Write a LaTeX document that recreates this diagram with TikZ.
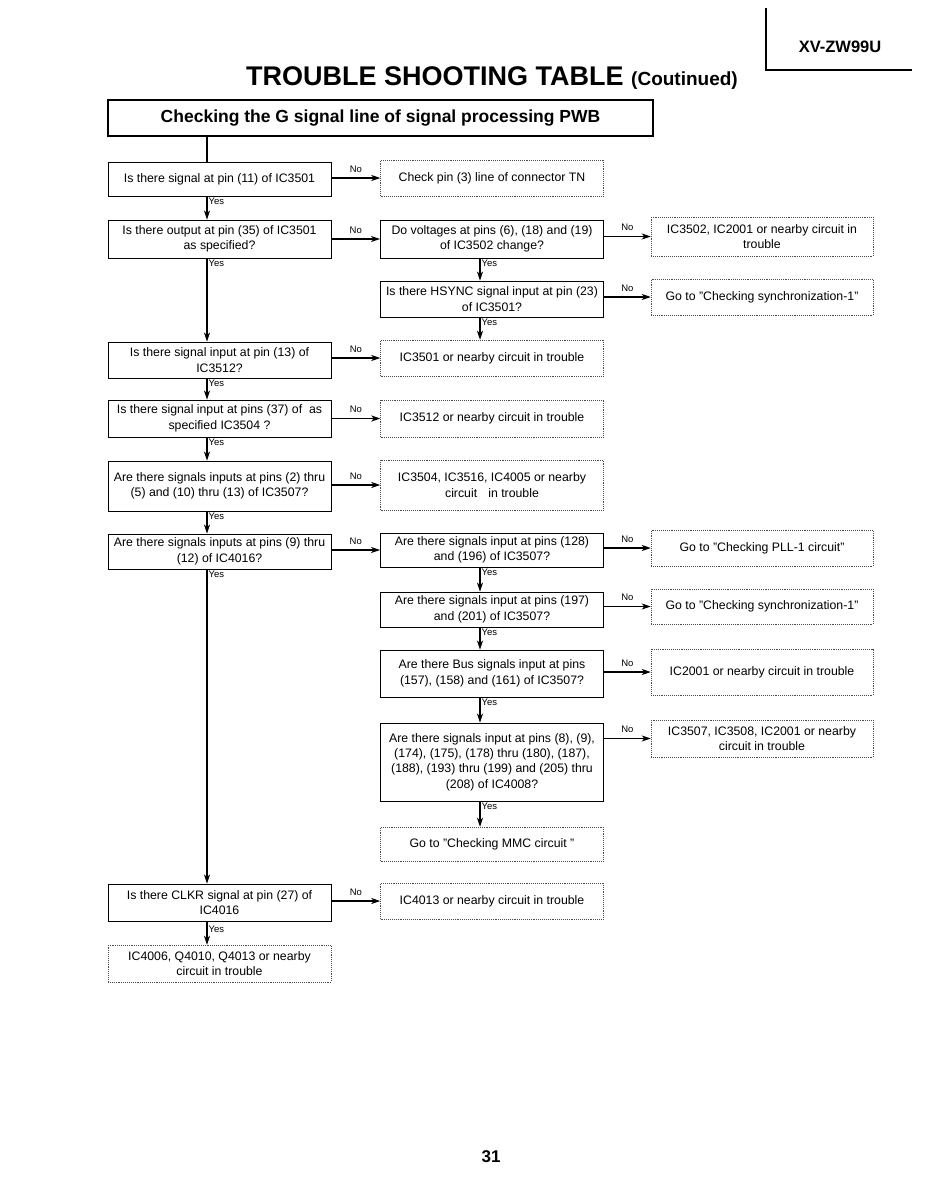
\documentclass[tikz,border=0pt]{standalone}
\usepackage{fontspec}
\setmainfont{Liberation Sans}
\usetikzlibrary{arrows.meta}
\begin{document}
\begin{tikzpicture}[x=1pt,y=-1pt,
  every node/.style={font=\fontsize{12.3}{15.4}\selectfont, align=center, inner sep=2pt},
  qbox/.style={draw, line width=0.9pt, minimum width=223pt},
  rbox/.style={draw=black!70, line width=0.5pt, dash pattern=on 0.7pt off 1.2pt, minimum width=223pt},
  arr/.style={line width=1.1pt, -{Stealth[length=9pt,width=6pt,inset=2.5pt]}},
  plain/.style={line width=1.1pt},
  lbl/.style={font=\fontsize{9.5}{11}\selectfont, inner sep=1pt}]
\fill[white] (0,0) rectangle (932,1202);
\path[use as bounding box] (0,0) rectangle (932,1202);
% header mark
\coordinate (hm1) at (766,8);
\coordinate (hm2) at (766,70);
\coordinate (hm3) at (912,70);
\draw[line width=1.4pt] (hm1) -- (hm2) -- (hm3);
\node[font=\bfseries\fontsize{16.5}{18}\selectfont] (model) at (840,47) {XV-ZW99U};
\node[font=\bfseries\fontsize{27}{30}\selectfont, inner sep=0pt] (title) at (492,78)
  {TROUBLE SHOOTING TABLE {\fontsize{19}{20}\selectfont (Coutinued)}};
\node[draw, line width=1.6pt, minimum width=545pt, minimum height=36pt,
  font=\bfseries\fontsize{17.5}{20}\selectfont] (head) at (380.5,118)
  {Checking the G signal line of signal processing PWB};
\coordinate (L) at (207,0);
\coordinate (M) at (480,0);
% left column
\node[qbox, minimum height=34pt] (q1) at (219.5,179) {Is there signal at pin (11) of IC3501};
\node[qbox, minimum height=38pt] (q2) at (219.5,239) {Is there output at pin (35) of IC3501\\as specified?};
\node[qbox, minimum height=36pt] (q3) at (219.5,360) {Is there signal input at pin (13) of\\IC3512?};
\node[qbox, minimum height=37pt] (q4) at (219.5,418.5) {Is there signal input at pins (37) of\ \ as\\specified IC3504 ?};
\node[qbox, minimum height=50pt] (q5) at (219.5,486) {Are there signals inputs at pins (2) thru\\(5) and (10) thru (13) of IC3507?};
\node[qbox, minimum height=35pt] (q6) at (219.5,551.5) {Are there signals inputs at pins (9) thru\\(12) of IC4016?};
\node[qbox, minimum height=37pt] (q7) at (219.5,902.5) {Is there CLKR signal at pin (27) of\\IC4016};
\node[rbox, minimum height=37pt] (r8) at (219.5,963.5) {IC4006, Q4010, Q4013 or nearby\\circuit in trouble};
% middle column
\node[rbox, minimum height=36pt] (r1) at (492,178) {Check pin (3) line of connector TN};
\node[qbox, minimum height=38pt] (m1) at (492,239) {Do voltages at pins (6), (18) and (19)\\of IC3502 change?};
\node[qbox, minimum height=36pt] (m2) at (492,299) {Is there HSYNC signal input at pin (23)\\of IC3501?};
\node[rbox, minimum height=36pt] (r3) at (492,358) {IC3501 or nearby circuit in trouble};
\node[rbox, minimum height=37pt] (r4) at (492,418.5) {IC3512 or nearby circuit in trouble};
\node[rbox, minimum height=50pt] (r5) at (492,485) {IC3504, IC3516, IC4005 or nearby\\circuit\hspace{0.9em}in trouble};
\node[qbox, minimum height=34pt] (m3) at (492,550) {Are there signals input at pins (128)\\and (196) of IC3507?};
\node[qbox, minimum height=35pt] (m4) at (492,609.5) {Are there signals input at pins (197)\\and (201) of IC3507?};
\node[qbox, minimum height=47pt] (m5) at (492,673.5) {Are there Bus signals input at pins\\(157), (158) and (161) of IC3507?};
\node[qbox, minimum height=78pt] (m6) at (492,762) {Are there signals input at pins (8), (9),\\(174), (175), (178) thru (180), (187),\\(188), (193) thru (199) and (205) thru\\(208) of IC4008?};
\node[rbox, minimum height=34pt] (r6) at (492,844) {Go to "Checking MMC circuit "};
\node[rbox, minimum height=36pt] (r7) at (492,901) {IC4013 or nearby circuit in trouble};
% far right column
\node[rbox, minimum width=222pt, minimum height=39pt] (f1) at (762,236.5) {IC3502, IC2001 or nearby circuit in\\trouble};
\node[rbox, minimum width=222pt, minimum height=36pt] (f2) at (762,297) {Go to "Checking synchronization-1"};
\node[rbox, minimum width=222pt, minimum height=36pt] (f3) at (762,548) {Go to "Checking PLL-1 circuit"};
\node[rbox, minimum width=222pt, minimum height=35pt] (f4) at (762,606.5) {Go to "Checking synchronization-1"};
\node[rbox, minimum width=222pt, minimum height=46pt] (f5) at (762,672) {IC2001 or nearby circuit in trouble};
\node[rbox, minimum width=222pt, minimum height=37pt] (f6) at (762,738.5) {IC3507, IC3508, IC2001 or nearby\\circuit in trouble};
% vertical connectors, left
\draw[plain] (head.south -| L) -- (q1.north -| L);
\draw[arr] (q1.south -| L) -- node[lbl, pos=0, anchor=north west]{Yes} (q2.north -| L);
\draw[arr] (q2.south -| L) -- node[lbl, pos=0, anchor=north west]{Yes} (q3.north -| L);
\draw[arr] (q3.south -| L) -- node[lbl, pos=0, anchor=north west]{Yes} (q4.north -| L);
\draw[arr] (q4.south -| L) -- node[lbl, pos=0, anchor=north west]{Yes} (q5.north -| L);
\draw[arr] (q5.south -| L) -- node[lbl, pos=0, anchor=north west]{Yes} (q6.north -| L);
\draw[arr] (q6.south -| L) -- node[lbl, pos=0, anchor=north west]{Yes} (q7.north -| L);
\draw[arr] (q7.south -| L) -- node[lbl, pos=0, anchor=west, yshift=-8pt]{Yes} (r8.north -| L);
% vertical connectors, middle
\draw[arr] (m1.south -| M) -- node[lbl, pos=0, anchor=north west]{Yes} (m2.north -| M);
\draw[arr] (m2.south -| M) -- node[lbl, pos=0, anchor=north west]{Yes} (r3.north -| M);
\draw[arr] (m3.south -| M) -- node[lbl, pos=0, anchor=north west]{Yes} (m4.north -| M);
\draw[arr] (m4.south -| M) -- node[lbl, pos=0, anchor=north west]{Yes} (m5.north -| M);
\draw[arr] (m5.south -| M) -- node[lbl, pos=0, anchor=north west]{Yes} (m6.north -| M);
\draw[arr] (m6.south -| M) -- node[lbl, pos=0, anchor=north west]{Yes} (r6.north -| M);
% horizontal No connectors
\draw[arr] (q1.east |- r1) -- node[lbl, above=4pt]{No} (r1.west);
\draw[arr] (q2.east |- m1) -- node[lbl, above=4pt]{No} (m1.west);
\draw[arr] (q3.east |- r3) -- node[lbl, above=4pt]{No} (r3.west);
\draw[arr] (q4.east |- r4) -- node[lbl, above=4pt]{No} (r4.west);
\draw[arr] (q5.east |- r5) -- node[lbl, above=4pt]{No} (r5.west);
\draw[arr] (q6.east |- m3) -- node[lbl, above=4pt]{No} (m3.west);
\draw[arr] (q7.east |- r7) -- node[lbl, above=4pt]{No} (r7.west);
\draw[arr] (m1.east |- f1) -- node[lbl, above=4pt]{No} (f1.west);
\draw[arr] (m2.east |- f2) -- node[lbl, above=4pt]{No} (f2.west);
\draw[arr] (m3.east |- f3) -- node[lbl, above=4pt]{No} (f3.west);
\draw[arr] (m4.east |- f4) -- node[lbl, above=4pt]{No} (f4.west);
\draw[arr] (m5.east |- f5) -- node[lbl, above=4pt]{No} (f5.west);
\draw[arr] (m6.east |- f6) -- node[lbl, above=4pt]{No} (f6.west);
% page number
\node[font=\bfseries\fontsize{17}{19}\selectfont] (page) at (491,1157) {31};
\end{tikzpicture}
\end{document}
